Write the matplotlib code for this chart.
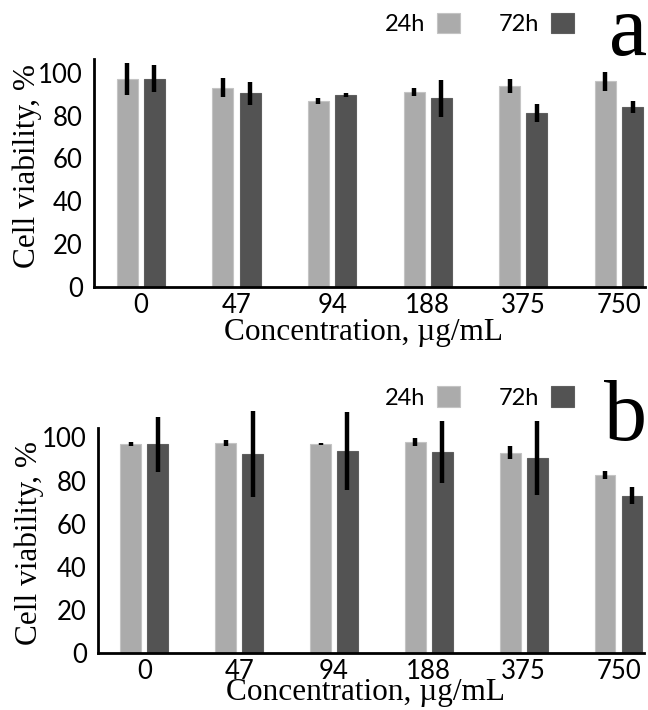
import matplotlib
matplotlib.use("Agg")
import matplotlib.pyplot as plt
import numpy as np

# Данные
concentrations = ["0", "47", "94", "188", "375", "750"]

a_24h = [97.2, 93.1, 86.7, 91.1, 93.8, 96.1]
a_24h_err = [7.5, 4.5, 1.4, 2.0, 3.4, 4.5]
a_72h = [97.2, 90.5, 89.5, 88.1, 81.1, 84.1]
a_72h_err = [6.3, 5.3, 1.0, 8.6, 4.2, 2.7]

b_24h = [96.9, 97.2, 96.9, 97.8, 93.0, 82.6]
b_24h_err = [1.1, 1.4, 0.3, 1.8, 2.9, 2.0]
b_72h = [96.9, 92.4, 93.8, 93.3, 90.5, 72.9]
b_72h_err = [12.7, 20.0, 18.0, 14.2, 17.3, 3.9]

yticks = [0, 20, 40, 60, 80, 100]

light = "#ababab"
dark = "#535353"
serif = "Liberation Serif"
sans = "Lato"


# Один график
def draw_panel(fig, ax, v24, e24, v72, e72, ylim, letter, letter_y, leg_y, xlab_pos, ylab_pos):
    x = np.arange(len(concentrations))
    w = 0.22
    off = 0.142
    b1 = ax.bar(x - off, v24, w, color=light, edgecolor="#c4c4c4", linewidth=0.8, label="24h")
    b2 = ax.bar(x + off, v72, w, color=dark, edgecolor="#5e5e5e", linewidth=0.8, label="72h")
    for xs, vals, errs in [(x - off, v24, e24), (x + off, v72, e72)]:
        eb = ax.errorbar(xs, vals, yerr=errs, fmt="none", ecolor="black",
                         elinewidth=3.2, capsize=0)
        for c in eb.get_children():
            c.set_clip_on(False)
    ax.set_xlim(-0.49, 5.27)
    ax.set_ylim(*ylim)
    ax.set_xticks(x)
    ax.set_xticklabels(concentrations, fontfamily=sans, fontsize=18.5)
    ax.set_yticks(yticks)
    ax.set_yticklabels([str(t) for t in yticks], fontfamily=sans, fontsize=18.5)
    ax.tick_params(axis="x", length=0, pad=4.5)
    ax.tick_params(axis="y", length=0, pad=8)
    for s in ["top", "right"]:
        ax.spines[s].set_visible(False)
    for s in ["left", "bottom"]:
        ax.spines[s].set_linewidth(2)
        ax.spines[s].set_color("black")
    ax.set_ylabel("Cell viability, %", fontfamily=serif, fontsize=22.5, va="center")
    ax.set_xlabel("Concentration, µg/mL", fontfamily=serif, fontsize=22.5, va="baseline")
    ax.yaxis.set_label_coords(*ylab_pos)
    ax.xaxis.set_label_coords(*xlab_pos)
    ax.legend(handles=[b1, b2], ncol=2, markerfirst=False, frameon=False,
              loc="center right", bbox_to_anchor=(574 / 648, leg_y),
              bbox_transform=fig.transFigure,
              prop={"family": sans, "size": 17}, borderpad=0, borderaxespad=0,
              handlelength=0.97, handleheight=0.97, columnspacing=1.65,
              handletextpad=0.5)
    fig.text(647 / 648, letter_y, letter, fontfamily=serif,
             fontsize=62, ha="right", va="baseline")


fig = plt.figure(figsize=(6.48, 7.1), dpi=100)
ax_a = fig.add_axes([0.145, 0.596, 0.85, 0.321])
ax_b = fig.add_axes([0.151, 0.080, 0.843, 0.317])

draw_panel(fig, ax_a, a_24h, a_24h_err, a_72h, a_72h_err, (0, 106.5), "a",
           1 - 55 / 710, 1 - 24 / 710, (0.49, -0.232), (-0.122, 0.53))
draw_panel(fig, ax_b, b_24h, b_24h_err, b_72h, b_72h_err, (0, 104.3), "b",
           1 - 440 / 710, 1 - 397.5 / 710, (0.49, -0.209), (-0.125, 0.49))

fig.savefig("out.png", dpi=100)
